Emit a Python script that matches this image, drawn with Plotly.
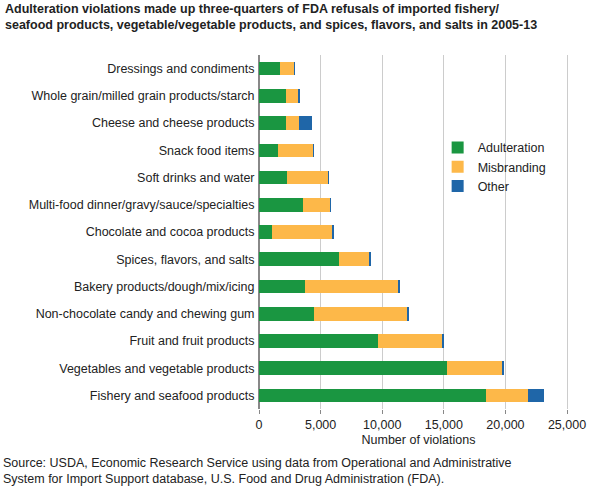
import plotly.graph_objects as go

categories = ["Fishery and seafood products", "Vegetables and vegetable products", "Fruit and fruit products",
              "Non-chocolate candy and chewing gum", "Bakery products/dough/mix/icing", "Spices, flavors, and salts",
              "Chocolate and cocoa products", "Multi-food dinner/gravy/sauce/specialties", "Soft drinks and water",
              "Snack food items", "Cheese and cheese products", "Whole grain/milled grain products/starch",
              "Dressings and condiments"]
adulteration = [18430, 15270, 9660, 4470, 3730, 6500, 1050, 3570, 2270, 1550, 2200, 2200, 1700]
misbranding = [3410, 4460, 5200, 7550, 7560, 2500, 4950, 2200, 3330, 2850, 1050, 1000, 1150]
other = [1300, 80, 80, 80, 80, 30, 100, 20, 20, 20, 1050, 60, 20]

fig = go.Figure()
for name, vals, col in [("Adulteration", adulteration, "#1a9641"),
                        ("Misbranding", misbranding, "#fdb849"),
                        ("Other", other, "#1f66a8")]:
    fig.add_trace(go.Bar(y=categories, x=vals, name=name, orientation="h",
                         marker=dict(color=col, line=dict(width=0)), width=0.5))

T, B = 55, 83
H = 492 - T - B
def py(p):
    return (492 - B - p) / H

fig.update_layout(
    barmode="stack", width=598, height=492, plot_bgcolor="white", paper_bgcolor="white",
    font=dict(family="Liberation Sans, Arial", size=12.5, color="#222"),
    margin=dict(l=259, r=20, t=T, b=B),
    xaxis=dict(range=[0, 25890], tickvals=[0, 5000, 10000, 15000, 20000, 25000],
               tickformat=",", showgrid=True, gridcolor="#cccccc", zeroline=True,
               zerolinecolor="#888", ticks="outside", ticklen=4, tickcolor="#888",
               title=dict(text="Number of violations", standoff=4, font=dict(size=12.5)), fixedrange=True),
    yaxis=dict(showgrid=False, ticks="", ticksuffix=" ", fixedrange=True, automargin=False),
    legend=dict(x=0.56, y=0.78, xanchor="left", yanchor="top", bgcolor="rgba(0,0,0,0)",
                traceorder="normal", font=dict(size=12.5)),
    bargap=0.5,
)
fig.add_annotation(text="<b>Adulteration violations made up three-quarters of FDA refusals of imported fishery/<br>seafood products, vegetable/vegetable products, and spices, flavors, and salts in 2005-13</b>",
                   xref="paper", yref="paper", x=-256/319, y=py(0), xanchor="left", yanchor="top",
                   showarrow=False, align="left", font=dict(size=12.5))
fig.add_annotation(text="Source: USDA, Economic Research Service using data from Operational and Administrative<br>System for Import Support database, U.S. Food and Drug Administration (FDA).",
                   xref="paper", yref="paper", x=-258/319, y=py(454), xanchor="left", yanchor="top",
                   showarrow=False, align="left", font=dict(size=12.5))
fig.write_html("out.html", post_script="document.body.style.margin='0';",
               config={"displayModeBar": False})
